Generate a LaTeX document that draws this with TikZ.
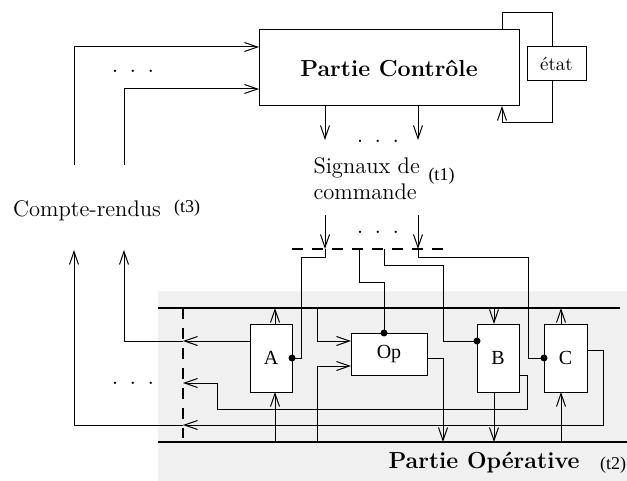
\documentclass[tikz,border=0pt]{standalone}
\usepackage{fontspec}
\newfontfamily\tms{Liberation Serif}
\usetikzlibrary{arrows.meta}

\tikzset{
  >={Straight Barb[length=6.5pt,width=4.5pt]},
  blok/.style={draw, fill=white, inner sep=0pt, outer sep=0pt,
    font=\tms\fontsize{10}{12}\selectfont},
  bus/.style={line width=1pt},
  sbus/.style={line width=1pt, dash pattern=on 5.5pt off 4.5pt},
  lbl/.style={inner sep=0pt, anchor=base},
  txt/.style={lbl, font=\fontsize{11.3}{13}\selectfont},
  tag/.style={lbl, font=\tms\fontsize{9}{10}\selectfont},
  dots/.style={lbl, font=\fontsize{12}{14}\selectfont},
  titre/.style={font=\bfseries\fontsize{11.6}{14}\selectfont},
}
\newcommand{\trois}{.\hspace{5.7pt}.\hspace{5.7pt}.}

\begin{document}
\begin{tikzpicture}[x=0.5pt, y=-0.5pt, line width=0.5pt]
\useasboundingbox (0,0) rectangle (627,481);
% zone operative
\fill[black!6] (158,291) rectangle (627,481);

% partie controle
\node[draw, titre, outer sep=0pt, minimum width=130pt, minimum height=38pt] (pc) at (389,68) {Partie Contrôle};
\node[draw, outer sep=0pt, minimum width=29.5pt, minimum height=17pt,
  font=\fontsize{9.5}{11}\selectfont] (etat) at (556.5,64) {état};
\coordinate (lp) at (502,13);
\coordinate (lq) at (552,123);
\draw (pc.north -| lp) -- (lp) -| (etat.north -| lq);
\draw[->] (etat.south -| lq) |- (lq -| lp) -- (pc.south -| lp);

% compte-rendus
\coordinate (cr1) at (74,165);
\coordinate (cr2) at (124,165);
\draw[->] (cr1) |- ([yshift=10.5pt]pc.west);
\draw[->] (cr2) |- ([yshift=-10.5pt]pc.west);
\node[dots] (d1) at (133,73) {\trois};
\node[txt] (cr) at (87,217) {Compte-rendus};
\node[tag] (t3) at (187,213) {(t3)};

% signaux de commande
\draw[->] ([xshift=-32pt]pc.south) -- ++(0,34);
\draw[->] ([xshift=14.5pt]pc.south) -- ++(0,34);
\node[dots] (d2) at (378,143) {\trois};
\node[txt, anchor=base west] (sig1) at (313,174) {Signaux de};
\node[txt, anchor=base west] (sig2) at (313,199) {commande};
\node[tag, anchor=base west] (t1) at (428,181) {(t1)};
\foreach \x in {325,418}
  \draw[->] (\x,215) -- (\x,249);
\node[dots] (d3) at (378,234) {\trois};
\coordinate (sbL) at (292,249);
\coordinate (sbR) at (443,249);
\draw[sbus] (sbL) -- (sbR);

% bus
\coordinate (tbL) at (158,308);
\coordinate (tbR) at (620,308);
\coordinate (bbL) at (158,442);
\coordinate (bbR) at (627,442);
\draw[bus] (tbL) -- (tbR);
\draw[bus] (bbL) -- (bbR);
\coordinate (vdT) at (183,308);
\coordinate (vdB) at (183,438);
\draw[sbus] (vdT) -- (vdB);

% partie operative
\node[blok, minimum width=21pt, minimum height=34pt] (A) at (271,358) {A};
\node[blok, minimum width=38pt, minimum height=21pt] (op) at (389,354) {Op};
\node[blok, minimum width=21pt, minimum height=34pt] (B) at (498,358) {B};
\node[blok, minimum width=21.5pt, minimum height=34pt] (C) at (565.5,358) {C};

% commandes
\coordinate (c1) at (325,249);
\coordinate (c2) at (359,249);
\coordinate (c3) at (384,249);
\coordinate (c4) at (418,249);
\draw (c1) |- (301,257) |- (A.east);
\fill (A.east) circle (1.75pt);
\draw (c2) |- (384,282) -- (op.north -| c3);
\fill (op.north -| c3) circle (1.75pt);
\coordinate (bk) at ([yshift=8.5pt]B.west);
\draw (c3) |- (443,265) |- (bk);
\fill (bk) circle (1.75pt);
\draw (c4) |- (528,257) |- (C.west);
\fill (C.west) circle (1.75pt);

% liaisons bus
\coordinate (ax) at (275,0);
\coordinate (bx) at (494,0);
\coordinate (cx) at (561,0);
\coordinate (ox) at (317,0);
\coordinate (ex) at (443,0);
\draw[->] (A.north -| ax) -- (tbL -| ax);
\draw[->] (bbL -| ax) -- (A.south -| ax);
\draw[->] (tbL -| bx) -- (B.north -| bx);
\draw[->] (B.south -| bx) -- (bbL -| bx);
\draw[->] (C.north -| cx) -- (tbL -| cx);
\draw[->] (bbL -| cx) -- (C.south -| cx);
\draw[->] (tbL -| ox) |- ([yshift=6.5pt]op.west);
\draw[->] (bbL -| ox) |- ([yshift=-6pt]op.west);
\draw[->] ([yshift=-2pt]op.east) -| (bbL -| ex);

% retours vers compte-rendus
\coordinate (cu1) at (74,250);
\coordinate (cu2) at (124,250);
\coordinate (ao) at ([yshift=8.5pt]A.west);
\draw[->] (ao) -- (ao -| vdT);
\draw[->] (ao -| vdT) -| (cu2);
\coordinate (bo) at ([yshift=-8.5pt]B.east);
\draw[->] (bo) -| (527,409) -| (217,383) -- (183,383);
\coordinate (co) at ([yshift=4pt]C.east);
\draw[->] (co) -| (603,425) -- (183,425);
\draw[->] (183,425) -| (cu1);
\node[dots] (d4) at (133,384) {\trois};

\node[lbl, titre] (po) at (484,468) {Partie Opérative};
\node[tag] (t2) at (613,469) {(t2)};
\end{tikzpicture}
\end{document}
